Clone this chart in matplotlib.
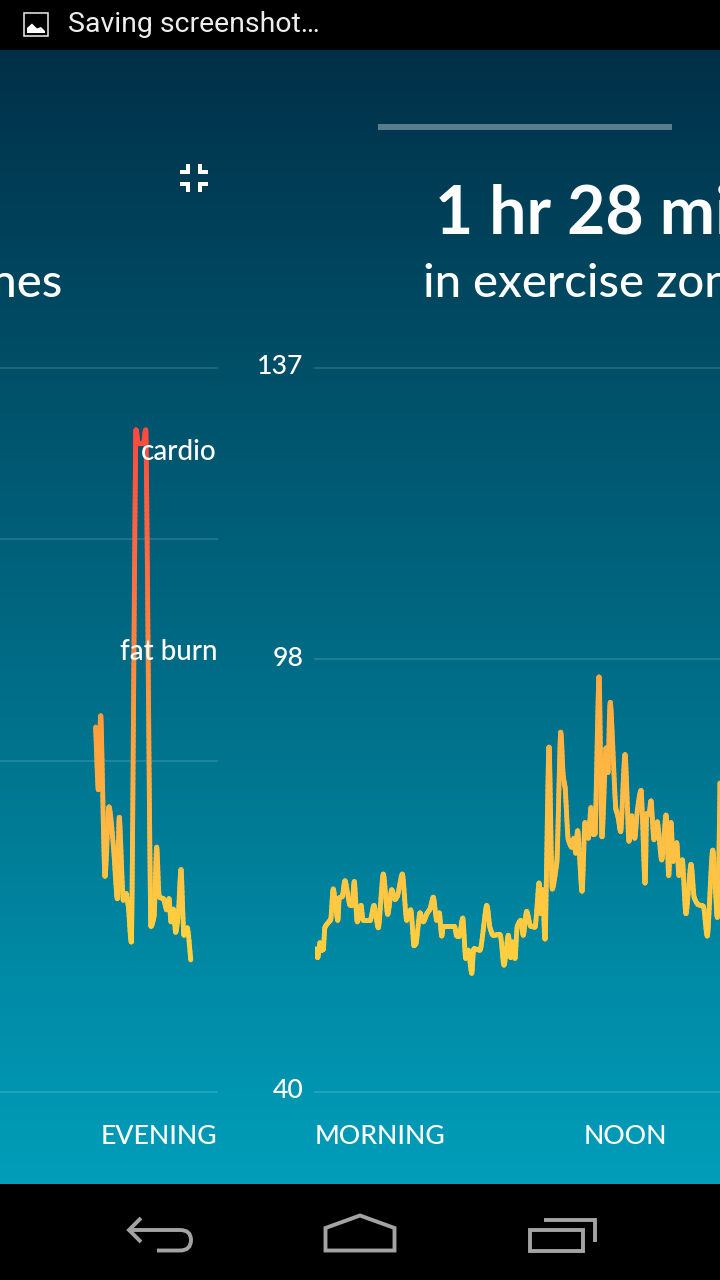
import numpy as np
import matplotlib
matplotlib.use('Agg')
import matplotlib.pyplot as plt
from matplotlib.collections import LineCollection
from matplotlib.colors import LinearSegmentedColormap, Normalize
from matplotlib.patches import Rectangle, Polygon, PathPatch
from matplotlib.path import Path
from matplotlib.transforms import ScaledTranslation

W, H = 720, 1280

# left panel (evening), heart rate in bpm
evening_t = [95.7, 98.3, 100.7, 105, 109, 113.3, 117.3, 119.3, 123.3, 126, 128.3, 131.3,
             136, 138.3, 143.3, 145.7, 151, 154, 156.7, 159.3, 163.3, 166.7, 169, 171,
             173.3, 175.7, 178.3, 181, 184, 187.3, 190.7]
evening_bpm = [88.9, 80.5, 90.4, 68.9, 78.2, 73.1, 65.9, 76.8, 65.7, 66.6, 64.9, 60.1,
               128.7, 126.9, 126.9, 128.7, 62.2, 63.5, 72.8, 66.1, 65.9, 64.4, 65.9, 62.8,
               64.5, 61.4, 63.8, 69.8, 61.0, 62.0, 57.7]

# right panel (morning to noon)
day_t = [0, 2.7, 5, 6.7, 8.3, 10, 13.3, 15.7, 18.3, 22.7, 24.3, 27.3, 30, 35, 37, 39.3,
         42.3, 46, 48.3, 55, 59, 63.3, 68.3, 72.7, 76.7, 80, 82.3, 87.3, 91.7, 95.7, 99,
         101, 105, 108.3, 112.3, 115, 118.3, 121.7, 124.3, 126.7, 129, 139, 141.7, 144.3,
         147.7, 150.7, 153.3, 156.7, 159, 165, 171.7, 175, 178.3, 185, 189, 193.3, 195.7,
         197.7, 200, 202.3, 205.7, 208.3, 211.7, 215.7, 220, 224, 226, 227.7, 230, 234,
         237.3, 241.7, 245.7, 248.3, 250, 253.3, 256.7, 259, 260.7, 262.7, 267, 270,
         273.3, 276, 278.3, 280, 284, 287, 291, 293, 295.3, 301, 303.3, 305.7, 310, 314,
         316.7, 319.7, 322.3, 326, 330, 331.7, 334, 336, 339, 342.3, 346.7, 351, 353.7,
         356, 358.3, 361.7, 364, 367.3, 371, 376, 379.3, 383.3, 388.3, 392.3, 397.7,
         402.3, 405]
day_bpm = [59.2, 58.0, 60.0, 59.0, 59.1, 62.1, 62.7, 63.1, 67.2, 63.0, 66.0, 66.2, 68.3,
           65.0, 65.0, 68.2, 62.8, 65.0, 63.0, 63.0, 65.0, 62.0, 69.2, 63.8, 67.1, 65.8,
           66.2, 69.2, 63.0, 64.4, 59.6, 59.9, 64.0, 62.8, 64.0, 64.5, 66.1, 63.0, 64.0,
           60.9, 62.2, 62.2, 60.9, 60.9, 63.3, 57.9, 59.0, 55.9, 59.2, 59.0, 65.0, 62.0,
           61.0, 61.1, 57.0, 61.0, 58.0, 60.1, 57.9, 62.2, 63.0, 61.0, 64.2, 62.2, 62.1,
           68.0, 63.9, 67.1, 60.5, 86.2, 67.2, 70.6, 88.2, 82.2, 80.9, 73.8, 72.8, 74.0,
           72.0, 75.0, 66.9, 76.1, 74.0, 78.1, 74.5, 74.6, 95.6, 74.2, 86.1, 82.8, 92.2,
           77.8, 76.7, 74.9, 85.2, 73.6, 77.0, 74.0, 77.6, 80.4, 68.0, 77.3, 77.2, 79.0,
           73.8, 76.2, 71.1, 77.1, 69.0, 76.1, 70.9, 73.4, 69.0, 71.1, 63.9, 70.5, 66.0,
           65.1, 64.9, 60.9, 72.4, 63.4, 81.4]

day_ticks = [137, 98, 40]
evening_ticks = [137, 114.1, 84.3, 40]
zone_labels = ['cardio', 'fat burn']
zone_label_bpm = [125.7, 98.9]

BPM_TOP, BPM_BOTTOM = 137, 40
Y_TOP, Y_BOTTOM = 368, 1092

plt.rcParams['font.family'] = ['Lato', 'DejaVu Sans']
plt.rcParams['font.weight'] = 'medium'

heat = LinearSegmentedColormap.from_list('heat', [
    (0.0, '#FFD23F'), (0.2, '#FFBB45'), (0.45, '#FF9A3C'), (0.7, '#FF7043'), (1.0, '#FF4A3E')])


def panel(fig, x0, x1, xlim):
    ax = fig.add_axes([x0 / W, 1 - Y_BOTTOM / H, (x1 - x0) / W, (Y_BOTTOM - Y_TOP) / H])
    ax.patch.set_alpha(0)
    ax.set_xlim(*xlim)
    ax.set_ylim(BPM_BOTTOM, BPM_TOP)
    for s in ax.spines.values():
        s.set_visible(False)
    ax.grid(True, axis='y', color='white', alpha=0.13, lw=1.4)
    for g in ax.get_ygridlines():
        g.set_clip_on(False)
    return ax


def heart_line(ax, t, bpm, vmin, vmax):
    # the app draws a rounded curve through its samples, so round the corners for drawing;
    # flat tangents at peaks and dips keep the curve from going past the samples
    t = np.array(t, dtype=float)
    bpm = np.array(bpm, dtype=float)
    step = np.diff(bpm)
    dt = np.zeros(len(t))
    db = np.zeros(len(t))
    dt[1:-1] = (t[2:] - t[:-2]) * 0.4
    same_way = step[:-1] * step[1:] > 0
    limit = np.minimum(np.abs(step[:-1]), np.abs(step[1:]))
    db[1:-1] = np.where(same_way, np.sign(step[1:]) * limit, 0)
    xs, ys = [], []
    for i in range(len(t) - 1):
        n = max(8, int(abs(bpm[i + 1] - bpm[i]) / 0.5) + 1)
        u = np.linspace(0, 1, n, endpoint=False)
        h00 = 2 * u ** 3 - 3 * u ** 2 + 1
        h10 = u ** 3 - 2 * u ** 2 + u
        h01 = -2 * u ** 3 + 3 * u ** 2
        h11 = u ** 3 - u ** 2
        xs.extend(h00 * t[i] + h10 * dt[i] + h01 * t[i + 1] + h11 * dt[i + 1])
        ys.extend(h00 * bpm[i] + h10 * db[i] + h01 * bpm[i + 1] + h11 * db[i + 1])
    xs.append(t[-1])
    ys.append(bpm[-1])
    pts = np.column_stack([xs, ys]).reshape(-1, 1, 2)
    segs = np.concatenate([pts[:-1], pts[1:]], axis=1)
    lc = LineCollection(segs, cmap=heat, norm=Normalize(vmin, vmax), lw=3.5,
                        capstyle='round', joinstyle='round')
    lc.set_array((np.array(ys[:-1]) + np.array(ys[1:])) / 2)
    ax.add_collection(lc)


fig = plt.figure(figsize=(W / 100, H / 100), dpi=100, facecolor='black')

# page background and phone chrome, in pixel coordinates
bg = fig.add_axes([0, 0, 1, 1])
bg.axis('off')
grad = np.linspace(0, 1, 256)[:, None, None]
top = np.array([0, 48, 72]) / 255
bottom = np.array([0, 158, 186]) / 255
bg.imshow(top + (bottom - top) * grad, extent=[0, W, 1184, 50], aspect='auto', zorder=0)
bg.set_xlim(0, W)
bg.set_ylim(H, 0)

# status bar
bg.add_patch(Rectangle((23.5, 12.5), 24, 23.5, fill=False, ec='#eeeeee', lw=1.1))
bg.add_patch(Polygon([(27, 33), (27, 28), (32, 23.5), (37, 28.5), (41, 27), (45, 31), (45, 33)],
                     fc='white', ec='none'))
bg.text(68, 25, 'Saving screenshot\u2026', color='#eeeeee', fontsize=20.4, family='Roboto',
        fontweight='normal', va='center', ha='left')

# compress icon
for rx, ry, rw, rh in [(186, 164, 4, 10), (180, 170, 10, 4), (198, 164, 4, 10), (198, 170, 10, 4),
                       (180, 182, 10, 4), (186, 182, 4, 10), (198, 182, 10, 4), (198, 182, 4, 10)]:
    bg.add_patch(Rectangle((rx, ry), rw, rh, fc='white', ec='none'))

bg.add_patch(Rectangle((378, 124), 294, 6, fc='#5A7D8E', ec='none'))
bg.text(435, 214, '1 hr 28 min', color='white', fontsize=47.5, fontweight='bold', ha='left',
        va='center')
bg.text(423, 284, 'in exercise zones', color='white', fontsize=34, ha='left', va='center')
bg.text(62, 284, 'in exercise zones', color='white', fontsize=34, ha='right', va='center')

# nav buttons
nav = dict(fc='none', ec='#a3a3a3', lw=2.8, joinstyle='miter', capstyle='butt')
bg.add_patch(Polygon([(325.5, 1228), (360, 1215.5), (394.5, 1228), (394.5, 1250.5), (325.5, 1250.5)],
                     closed=True, **nav))
bg.add_patch(Rectangle((529.5, 1229.5), 53.5, 21, **nav))
bg.add_patch(PathPatch(Path([(544, 1220), (594.5, 1220), (594.5, 1242)]), **nav))
bg.add_patch(PathPatch(Path([(141, 1218), (129, 1230), (141, 1242)]), **nav))
bg.add_patch(PathPatch(Path([(129, 1230), (180, 1230), (191, 1230), (191, 1240), (191, 1250.5),
                             (180, 1250.5), (157, 1250.5)],
                            [Path.MOVETO, Path.LINETO, Path.CURVE3, Path.CURVE3, Path.CURVE3,
                             Path.CURVE3, Path.LINETO]), **nav))

# left chart
ax_eve = panel(fig, 0, 217, (0, 217))
ax_eve.set_yticks(evening_ticks)
ax_eve.tick_params(axis='y', length=0, labelleft=False)
ax_eve.set_xticks([217], ['EVENING'], color='white', fontsize=19.2, ha='right')
ax_eve.tick_params(axis='x', length=0, pad=23)
heart_line(ax_eve, evening_t, evening_bpm, 60, 129)
for name, val in zip(zone_labels, zone_label_bpm):
    ax_eve.text(217, val, name, color='white', fontsize=20, ha='right', va='center', zorder=5)

# right chart
ax_day = panel(fig, 315, 720, (0, 405))
ax_day.set_yticks(day_ticks, [str(v) for v in day_ticks], color='white', fontsize=19.2)
ax_day.tick_params(axis='y', length=0, pad=8.5)
ax_day.set_xticks([0, 310], ['MORNING', 'NOON'], color='white', fontsize=19.2)
ax_day.get_xticklabels()[0].set_ha('left')
ax_day.tick_params(axis='x', length=0, pad=23)
shift = ScaledTranslation(0, 3.5 / 100, fig.dpi_scale_trans)
for lab in ax_day.get_yticklabels():
    lab.set_transform(lab.get_transform() + shift)
heart_line(ax_day, day_t, day_bpm, 55, 175)

fig.savefig('out.png', dpi=100, facecolor='black')
